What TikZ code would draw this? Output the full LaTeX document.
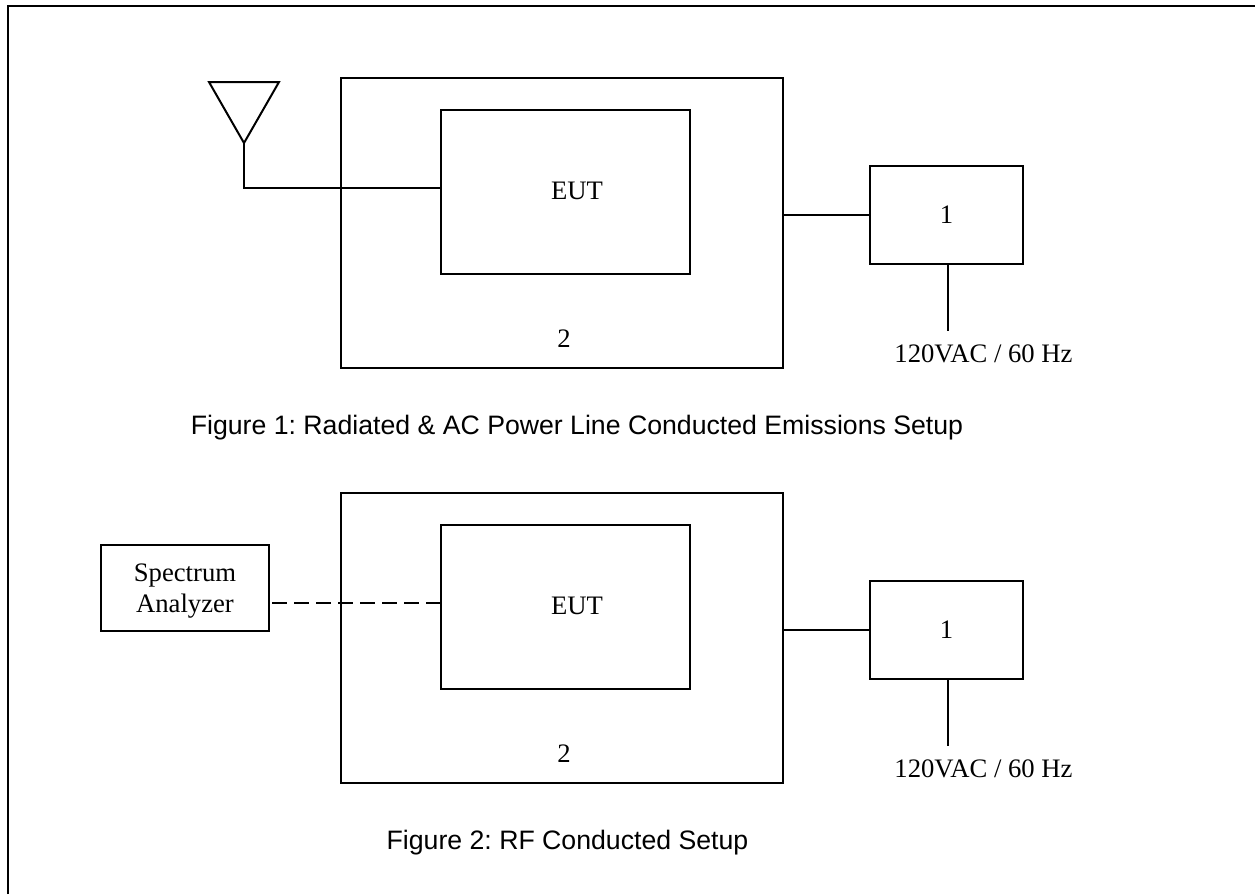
\documentclass[tikz,border=0pt]{standalone}
\usepackage{fontspec}
\setmainfont{Liberation Serif}
\newfontfamily\captionfont{Liberation Sans}
\usetikzlibrary{shapes.geometric}
\frenchspacing

\begin{document}
\begin{tikzpicture}[
  x=0.75pt, y=-0.75pt, line width=1.5pt,
  every node/.style={font=\fontsize{20}{23}\selectfont, outer sep=0pt},
  outerbox/.style={rectangle, draw, minimum width=331.5pt, minimum height=217.5pt},
  eutbox/.style={rectangle, draw, minimum width=186.75pt, minimum height=123pt},
  supplybox/.style={rectangle, draw, minimum width=114.75pt, minimum height=73.5pt},
  analyzerbox/.style={rectangle, draw, minimum width=126pt, minimum height=64.5pt},
  antenna/.style={isosceles triangle, isosceles triangle stretches, draw, shape border rotate=-90, inner sep=0pt, minimum height=45.75pt, minimum width=52.5pt},
  figcaption/.style={anchor=base, font=\captionfont\fontsize{20}{23}\selectfont}
]
\useasboundingbox (0,0) rectangle (1255,894);
\draw (8,894) -- (8,6) -- (1255,6);

% first setup
\node [outerbox] (outerA) at (562,223) {};
\node [eutbox] (eutA) at (565.5,192) {};
\node (eutlabelA) at (577,191) {EUT};
\node [supplybox] (supplyA) at (946.5,215) {1};
\node [antenna, anchor=apex] (antA) at (244,143) {};
\node (labelA) at (564,339) {2};
\node (mainsA) at (983.5,354) {120VAC / 60 Hz};
\node [figcaption] (captionA) at (577,434) {Figure 1: Radiated \& AC Power Line Conducted Emissions Setup};
\coordinate (portA) at (441,188);
\coordinate (stemA) at (948,331);
\draw (antA.apex) |- (portA);
\draw (outerA.east |- supplyA.west) -- (supplyA.west);
\draw (stemA |- supplyA.south) -- (stemA);

% second setup
\node [outerbox] (outerB) at (562,638) {};
\node [eutbox] (eutB) at (565.5,607) {};
\node (eutlabelB) at (577,606) {EUT};
\node [supplybox] (supplyB) at (946.5,630) {1};
\node [analyzerbox] (analyzer) at (185,588) {};
\node [align=center] (analyzerlabel) at (185,591) {Spectrum\\Analyzer};
\node (labelB) at (564,754) {2};
\node (mainsB) at (983.5,769) {120VAC / 60 Hz};
\node [figcaption] (captionB) at (567.5,849) {Figure 2: RF Conducted Setup};
\coordinate (portB) at (441,603);
\coordinate (stemB) at (948,746);
\draw [dash pattern=on 11.25pt off 5.25pt] ([xshift=2.5pt]analyzer.east |- portB) -- (portB);
\draw (outerB.east |- supplyB.west) -- (supplyB.west);
\draw (stemB |- supplyB.south) -- (stemB);
\end{tikzpicture}
\end{document}
